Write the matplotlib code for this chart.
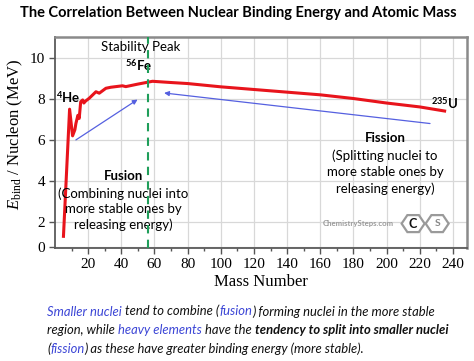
import numpy as np
import matplotlib
matplotlib.use("Agg")
import matplotlib.pyplot as plt
from matplotlib import transforms
from matplotlib.patches import Polygon

# ---------------- data ----------------
mass_number = [5.1, 8.8, 10.6, 12.0, 12.6, 13.8, 14.6, 15.5, 16.7, 17.4, 18.5,
               20.6, 24.7, 26.7, 30.7, 33.7, 40.7, 42.7, 49.8, 58.8, 70, 80,
               100, 120, 140, 160, 180, 200, 220, 235]
binding_energy = [1.3, 7.5, 6.2, 6.5, 6.8, 7.2, 7.05, 7.86, 7.95, 7.8, 7.9,
                  8.03, 8.35, 8.28, 8.52, 8.57, 8.64, 8.60, 8.72, 8.86, 8.80, 8.75,
                  8.59, 8.46, 8.33, 8.20, 8.02, 7.80, 7.61, 7.41]
fe_peak_mass = 56
x_ticks = [20, 40, 60, 80, 100, 120, 140, 160, 180, 200, 220, 240]
y_tick_labels = ["0", "2", "4", "6", "8", "10"]
fusion_arrow = [(12.6, 6.0), (49.8, 7.97)]     # (start, end)
fission_arrow = [(226.2, 6.8), (65.8, 8.29)]   # (start, end)

title = "The Correlation Between Nuclear Binding Energy and Atomic Mass"
caption_lines = [
    [("Smaller nuclei", "b", "normal"), (" tend to combine (", "k", "normal"),
     ("fusion", "b", "normal"), (") forming nuclei in the more stable", "k", "normal")],
    [("region, while ", "k", "normal"), ("heavy elements", "b", "normal"),
     (" have the ", "k", "normal"), ("tendency to split into smaller nuclei", "k", "bold")],
    [("(", "k", "normal"), ("fission", "b", "normal"),
     (") as these have greater binding energy (more stable).", "k", "normal")],
]

# ---------------- figure ----------------
W, H = 474, 361
DPI = 100
fig = plt.figure(figsize=(W / DPI, H / DPI), dpi=DPI)
SANS = "Lato"
SERIF = "Liberation Serif"
plt.rcParams["mathtext.fontset"] = "custom"
plt.rcParams["mathtext.rm"] = SERIF
plt.rcParams["mathtext.it"] = SERIF + ":italic"
plt.rcParams["mathtext.bf"] = SANS + ":bold"

ax_l, ax_r, ax_t, ax_b = 55, 467, 37, 248
ax = fig.add_axes([ax_l / W, 1 - ax_b / H, (ax_r - ax_l) / W, (ax_b - ax_t) / H])

ylo, yhi = 0.73, 11.02
ax.set_xlim(0, 248.5)
ax.set_ylim(ylo, yhi)

ax.grid(True, color="#d8d8d8", lw=0.9)
ax.set_axisbelow(True)

ax.plot(mass_number, binding_energy, color="#e8141c", lw=2.2, solid_joinstyle="round", zorder=3)
ax.axvline(fe_peak_mass, color="#1f9e5a", lw=1.5, ls=(0, (4, 3)), zorder=4)

arrow_kw = dict(arrowstyle="-|>", color="#5560e0", lw=0.9, mutation_scale=7, shrinkA=0, shrinkB=0)
ax.annotate("", xy=fusion_arrow[1], xytext=fusion_arrow[0], arrowprops=arrow_kw, zorder=4)
ax.annotate("", xy=fission_arrow[1], xytext=fission_arrow[0], arrowprops=arrow_kw, zorder=4)

# ticks
ax.set_xticks(x_ticks)
ax.set_xticks(np.arange(10, 250, 20), minor=True)
ax.set_yticks([ylo + 0.04, 2, 4, 6, 8, 10], labels=y_tick_labels)
ax.tick_params(axis="both", which="major", direction="out", length=4, width=1,
               color="#555555", labelsize=11, pad=3)
ax.tick_params(axis="x", which="minor", direction="out", length=2.5, width=1, color="#555555")
for lab in ax.get_xticklabels() + ax.get_yticklabels():
    lab.set_fontfamily(SERIF)
for side in ["left", "bottom"]:
    ax.spines[side].set_color("#5a5a5a")
    ax.spines[side].set_linewidth(1.3)
for side in ["top", "right"]:
    ax.spines[side].set_color("#8a8a8a")
    ax.spines[side].set_linewidth(1.8)

ax.set_xlabel("Mass Number", fontfamily=SERIF, fontsize=12)
ax.xaxis.set_label_coords(0.5, -34 / (ax_b - ax_t))
ax.xaxis.label.set_va("center")
fig.text(15 / W, 1 - 134 / H, r"$E_{\rm bind}$ / Nucleon (MeV)", rotation=90,
         ha="center", va="center", fontfamily=SERIF, fontsize=12)

# annotations
ax.text(51.5, 10.52, "Stability Peak", ha="center", va="center", fontfamily=SANS, fontsize=9.5)
ax.text(50.5, 9.64, r"$^{\mathbf{56}}$Fe", ha="center", va="center", fontfamily=SANS,
        fontsize=9.5, fontweight="bold")
ax.text(7.8, 8.07, r"$^{\mathbf{4}}$He", ha="center", va="center", fontfamily=SANS,
        fontsize=9.5, fontweight="bold")
ax.text(235.3, 7.78, r"$^{\mathbf{235}}$U", ha="center", va="center", fontfamily=SANS,
        fontsize=9.5, fontweight="bold")

ax.text(41.3, 4.23, "Fusion", ha="center", va="center", fontfamily=SANS, fontsize=9.5, fontweight="bold")
for yy, s in zip([3.4, 2.64, 1.87], ["(Combining nuclei into", "more stable ones by", "releasing energy)"]):
    ax.text(41.3, yy, s, ha="center", va="center", fontfamily=SANS, fontsize=9.5)
ax.text(199, 6.08, "Fission", ha="center", va="center", fontfamily=SANS, fontsize=9.5, fontweight="bold")
for yy, s in zip([5.25, 4.45, 3.62], ["(Splitting nuclei to", "more stable ones by", "releasing energy)"]):
    ax.text(199, yy, s, ha="center", va="center", fontfamily=SANS, fontsize=9.5)

# logo
ax.text(183, 1.93, "ChemistrySteps.com", ha="center", va="center", fontfamily=SANS,
        fontsize=5.6, fontweight="bold", color="#9a9a9a")
hw, hh = 0.115, 0.085
hexv = [(-hw, 0), (-hw / 2, hh), (hw / 2, hh), (hw, 0), (hw / 2, -hh), (-hw / 2, -hh)]
for cx, letter, col in [(216, "C", "#111111"), (230.5, "S", "#888888")]:
    tr = fig.dpi_scale_trans + transforms.ScaledTranslation(cx, 1.92, ax.transData)
    ax.add_patch(Polygon(hexv, closed=True, transform=tr, facecolor="white",
                         edgecolor="#9a9a9a", lw=1.6, zorder=5))
    ax.text(cx, 1.92, letter, ha="center", va="center", fontfamily=SANS, fontsize=9 if letter == "C" else 7.5,
            fontweight="bold", color=col, zorder=6)

# title
fig.text(238 / W, 1 - 17.5 / H, title, ha="center", va="baseline", fontfamily=SANS,
         fontsize=10.5, fontweight="bold")

# caption with mixed styling
fig.canvas.draw()
renderer = fig.canvas.get_renderer()
colors = {"b": "#3c46d6", "k": "#111111"}


def width_of(s, **kw):
    t1 = fig.text(0, 0, s + "x", **kw)
    t2 = fig.text(0, 0, "x", **kw)
    w = t1.get_window_extent(renderer).width - t2.get_window_extent(renderer).width
    t1.remove()
    t2.remove()
    return w


for line, base in zip(caption_lines, [315.5, 334.3, 353.2]):
    x = 47.0
    for s, c, wgt in line:
        kw = dict(fontfamily=SANS, fontsize=9.4, style="italic", fontweight=wgt, color=colors[c])
        fig.text(x / W, 1 - base / H, s, ha="left", va="baseline", **kw)
        x += width_of(s, **kw)

fig.savefig("out.png", dpi=DPI)
